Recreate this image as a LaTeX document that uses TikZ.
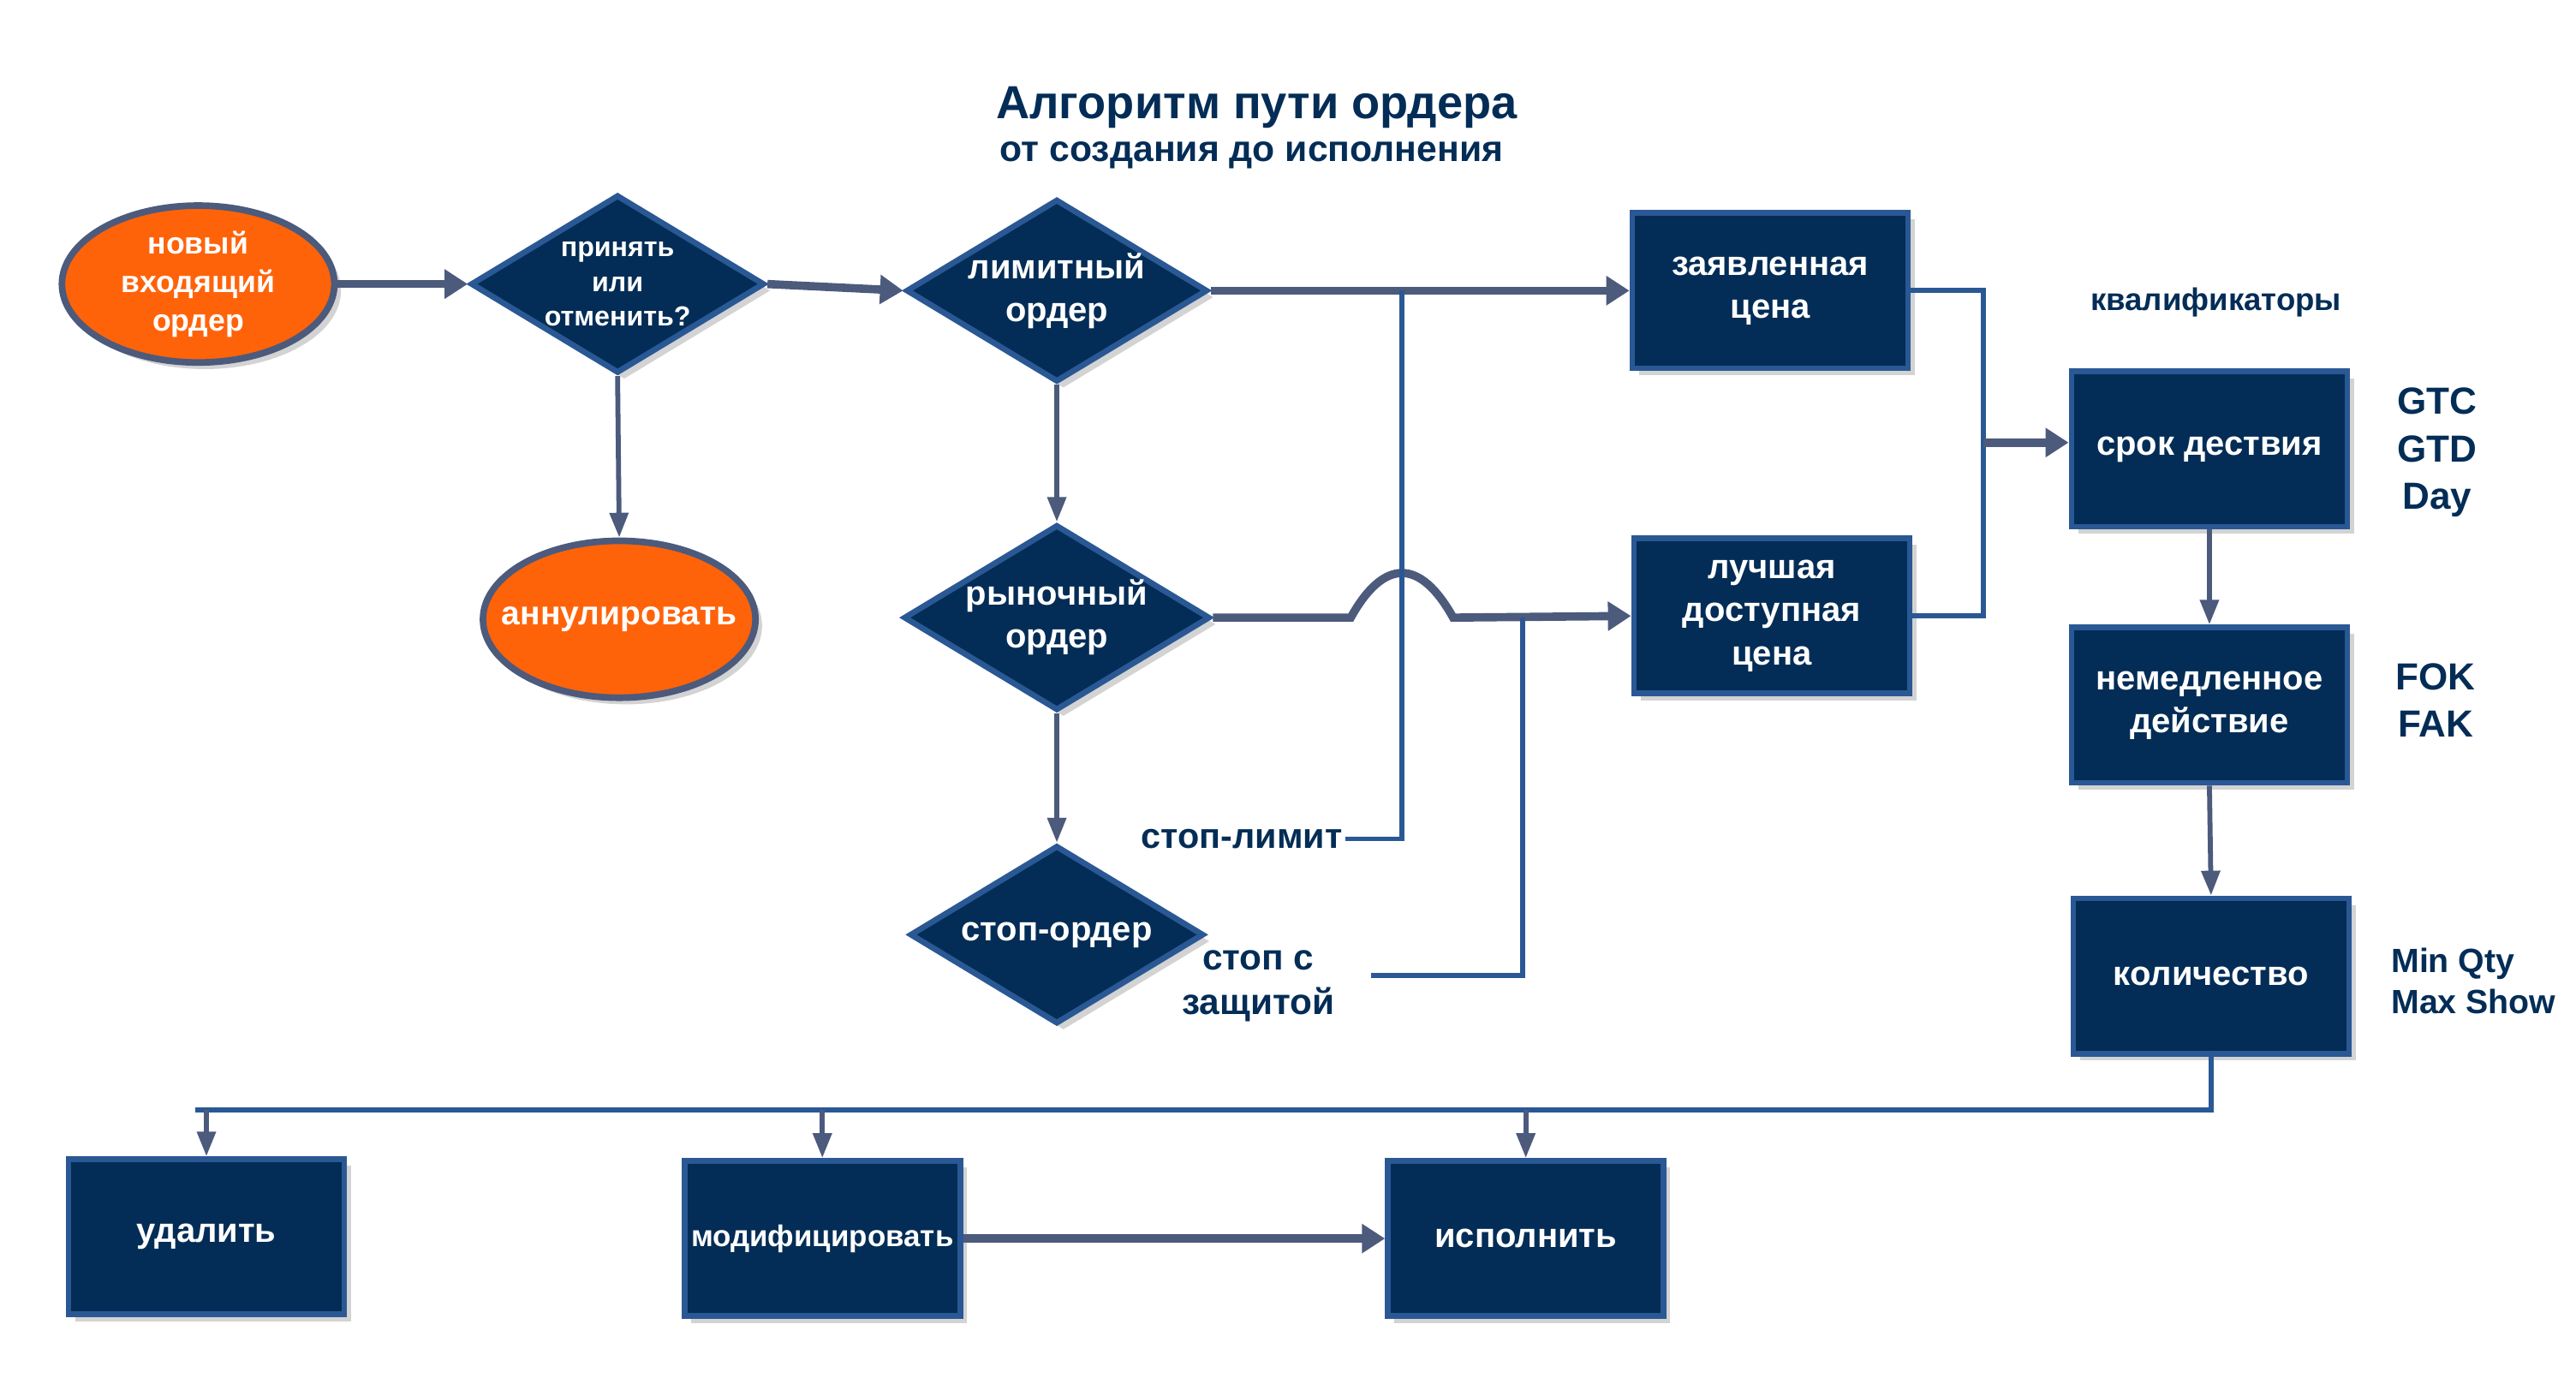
\documentclass[tikz,border=0pt]{standalone}
\usepackage{fontspec}
\setmainfont{Liberation Sans}
\usetikzlibrary{positioning,shapes.geometric,arrows.meta,shadows}
\definecolor{navy}{RGB}{3,45,86}
\definecolor{rimblue}{RGB}{42,88,148}
\definecolor{arrowgray}{RGB}{76,90,124}
\definecolor{myorange}{RGB}{255,99,10}

\begin{document}
\begin{tikzpicture}[x=0.2mm, y=-0.2mm, >=Stealth,
			box/.style={rectangle, draw=rimblue, line width=0.7mm, fill=navy, text=white, align=center, minimum width=33.4mm, minimum height=18.8mm, inner sep=1pt, font=\bfseries\fontsize{11.8}{14.8}\selectfont, drop shadow={shadow xshift=0.8mm, shadow yshift=-0.8mm, opacity=0.35}},
			choice/.style={diamond, draw=rimblue, line width=0.7mm, fill=navy, text=white, align=center, aspect=1.65, minimum width=35.6mm, minimum height=21.6mm, inner sep=0pt, font=\bfseries\fontsize{11.8}{14.8}\selectfont, drop shadow={shadow xshift=0.8mm, shadow yshift=-0.8mm, opacity=0.35}},
			oval/.style={ellipse, draw=arrowgray, line width=0.8mm, fill=myorange, text=white, align=center, minimum width=33mm, minimum height=19mm, inner sep=0pt, font=\bfseries\fontsize{10.5}{13.3}\selectfont, drop shadow={shadow xshift=0.8mm, shadow yshift=-0.8mm, opacity=0.35}},
			note/.style={text=navy, align=center, inner sep=1pt, font=\bfseries\fontsize{11}{15}\selectfont},
			fatArrow/.style={draw=arrowgray, line width=1mm, -{Triangle[length=2.8mm, width=3.4mm]}},
			thinArrow/.style={draw=arrowgray, line width=0.6mm, -{Triangle[length=3mm, width=2.2mm]}},
			chainLine/.style={draw=rimblue, line width=0.6mm}
			]
			\useasboundingbox (0,0) rectangle (1560,834);

			% title
			\node[note, font=\bfseries\fontsize{16}{19}\selectfont](title) at (761,65) {Алгоритм пути ордера};
			\node[note, font=\bfseries\fontsize{12.6}{15}\selectfont](subtitle) at (758,94) {от создания до исполнения};

			% order entry
			\node[oval](newOrd) at (120,172) {новый\\входящий\\ордер};
			\node[choice, font=\bfseries\fontsize{9.5}{12}\selectfont](acceptQ) at (374,172) {принять\\или\\отменить?};
			\node[oval, label={[text=white, font=\bfseries\fontsize{11.5}{14}\selectfont]center:аннулировать}](cancelOrd) at (375,375) {};

			% order types
			\node[choice](limitOrd) at (640,176) {лимитный\\ордер};
			\node[choice](marketOrd) at (640,374) {рыночный\\ордер};
			\node[choice](stopOrd) at (640,566) {стоп-ордер};

			\node[note, anchor=east, font=\bfseries\fontsize{12.2}{15}\selectfont](stopLimit) at (815,508) {стоп-лимит};
			\node[note, font=\bfseries\fontsize{12.5}{15.3}\selectfont](stopProt) at (762,597) {стоп с\\защитой};

			% price
			\node[box](declPrice) at (1072,176) {заявленная\\цена};
			\node[box](bestPrice) at (1073,373) {лучшая\\доступная\\цена};

			% qualifiers
			\node[note, font=\bfseries\fontsize{10.8}{14}\selectfont](qualTitle) at (1342,183) {квалификаторы};
			\node[box](termBox) at (1338,272) {срок дествия};
			\node[box](immBox) at (1338,427) {немедленное\\действие};
			\node[box](qtyBox) at (1339,591) {количество};

			\node[note, font=\bfseries\fontsize{13}{16.4}\selectfont](termVals) at (1476,274) {GTC\\GTD\\Day};
			\node[note, font=\bfseries\fontsize{13}{16.4}\selectfont](immVals) at (1475,424) {FOK\\FAK};
			\node[note, anchor=west, align=left, font=\bfseries\fontsize{11.6}{14.2}\selectfont](qtyVals) at (1446,594) {Min Qty\\Max Show};

			% actions
			\node[box](delBox) at (125,749) {удалить};
			\node[box, font=\bfseries\fontsize{10.3}{12}\selectfont](modBox) at (498,750) {модифицировать};
			\node[box](execBox) at (924,750) {исполнить};

			% helper points
			\coordinate (limitJoin) at (849,176);
			\coordinate (bestJoin) at (922,374);
			\coordinate (hopL) at (818,374);
			\coordinate (hopR) at (880,374);
			\coordinate (merge) at (1201,268);
			\coordinate (busEnd) at (118,672);

			% connectors
			\draw[fatArrow] (newOrd.east) -- (acceptQ.west);
			\draw[fatArrow] (acceptQ.east) -- (limitOrd.west);
			\draw[thinArrow] (acceptQ.south) -- (cancelOrd.north);
			\draw[thinArrow] (limitOrd.south) -- (marketOrd.north);
			\draw[thinArrow] (marketOrd.south) -- (stopOrd.north);

			\draw[fatArrow] (limitOrd.east) -- (declPrice.west);
			\draw[fatArrow] (marketOrd.east) -- (hopL) .. controls (838,338) and (860,338) .. (hopR) -- (bestPrice.west);

			\draw[chainLine] (stopLimit.east) -| (limitJoin);
			\draw[chainLine] ([xshift=4mm, yshift=1.3mm]stopProt.east) -| (bestJoin);

			\draw[chainLine] (declPrice.east) -| (merge);
			\draw[chainLine] (bestPrice.east) -| (merge);
			\draw[fatArrow] (merge) -- (merge -| termBox.west);

			\draw[thinArrow] (termBox.south) -- (immBox.north);
			\draw[thinArrow] (immBox.south) -- (qtyBox.north);

			\draw[chainLine] (qtyBox.south) |- (busEnd);
			\draw[thinArrow] (delBox.north |- busEnd) -- (delBox.north);
			\draw[thinArrow] (modBox.north |- busEnd) -- (modBox.north);
			\draw[thinArrow] (execBox.north |- busEnd) -- (execBox.north);

			\draw[fatArrow] (modBox.east) -- (execBox.west);

\end{tikzpicture}
\end{document}
